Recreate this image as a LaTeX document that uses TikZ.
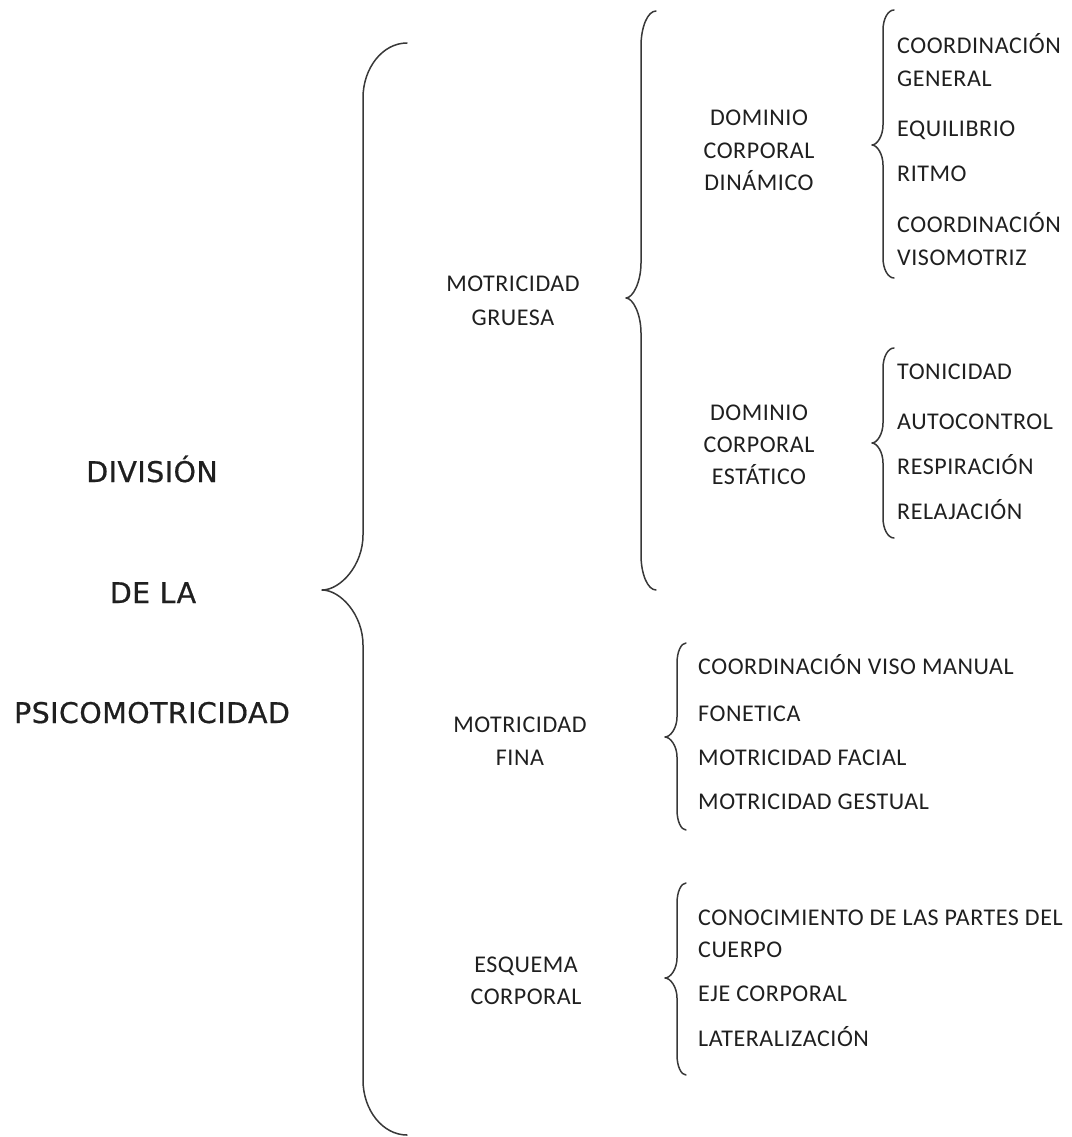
\documentclass[tikz,border=0pt]{standalone}
\usepackage{fontspec}
\setmainfont{Carlito}[LetterSpace=2.3]
\newfontfamily\titlefont{DejaVu Sans}[FakeBold=0.6,LetterSpace=1.5]
\begin{document}
\begin{tikzpicture}[x=1pt,y=-1pt,
  bracestyle/.style={draw=black!78,line width=1.5pt,line join=round,line cap=round},
  title/.style={font=\titlefont\fontsize{28.5}{34}\selectfont,text=black!88,inner sep=0pt,anchor=base},
  label/.style={font=\fontsize{24}{33}\selectfont,text=black!88,inner sep=0pt,anchor=base},
  item/.style={font=\fontsize{24}{33}\selectfont,text=black!88,inner sep=0pt,anchor=base west}]
\useasboundingbox (0,0) rectangle (1071,1137);
\newcommand\mybrace[7]{%
 \draw[bracestyle] (#1,#4) .. controls ({#2+0.45*(#1-#2)},#4) and (#2,{#4+0.45*#7}) .. (#2,{#4+#7})
   -- (#2,{#5-#7}) .. controls (#2,{#5-0.45*#7}) and ({#3+0.45*(#2-#3)},#5) .. (#3,#5)
   .. controls ({#3+0.45*(#2-#3)},#5) and (#2,{#5+0.45*#7}) .. (#2,{#5+#7})
   -- (#2,{#6-#7}) .. controls (#2,{#6-0.45*#7}) and ({#2+0.45*(#1-#2)},#6) .. (#1,#6);}
% title
\node[title] (t1) at (152,482) {DIVISIÓN};
\node[title] (t2) at (153,603) {DE LA};
\node[title] (t3) at (152,723) {PSICOMOTRICIDAD};
% main brace
\mybrace{407}{363}{322}{43}{590}{1135}{55}
% level 1
\node[label] (g1) at (513,291) {MOTRICIDAD};
\node[label] (g2) at (513,325) {GRUESA};
\node[label] (f1) at (520,732) {MOTRICIDAD};
\node[label] (f2) at (520,765) {FINA};
\node[label] (e1) at (526,972) {ESQUEMA};
\node[label] (e2) at (526,1004) {CORPORAL};
% brace gruesa
\mybrace{656}{641}{626}{11}{298}{590}{35}
% level 2
\node[label] (d1) at (759,125) {DOMINIO};
\node[label] (d2) at (759,158) {CORPORAL};
\node[label] (d3) at (759,190) {DINÁMICO};
\node[label] (s1) at (759,420) {DOMINIO};
\node[label] (s2) at (759,452) {CORPORAL};
\node[label] (s3) at (759,484) {ESTÁTICO};
% brace dinamico
\mybrace{894}{883}{872}{10}{145}{278}{20}
\node[item] (a1) at (897,54) {COORDINACIÓN};
\node[item] (a2) at (897,87) {GENERAL};
\node[item] (a3) at (897,136) {EQUILIBRIO};
\node[item] (a4) at (897,181) {RITMO};
\node[item] (a5) at (897,232) {COORDINACIÓN};
\node[item] (a6) at (897,265) {VISOMOTRIZ};
% brace estatico
\mybrace{894}{883}{872}{348}{443}{538}{20}
\node[item] (b1) at (897,379) {TONICIDAD};
\node[item] (b2) at (897,429) {AUTOCONTROL};
\node[item] (b3) at (897,474) {RESPIRACIÓN};
\node[item] (b4) at (897,519) {RELAJACIÓN};
% brace fina
\mybrace{686}{677}{665}{643}{737}{830}{20}
\node[item] (c1) at (698,674) {COORDINACIÓN VISO MANUAL};
\node[item] (c2) at (698,721) {FONETICA};
\node[item] (c3) at (698,765) {MOTRICIDAD FACIAL};
\node[item] (c4) at (698,809) {MOTRICIDAD GESTUAL};
% brace esquema
\mybrace{686}{677}{665}{883}{978}{1075}{20}
\node[item] (h1) at (698,925) {CONOCIMIENTO DE LAS PARTES DEL};
\node[item] (h2) at (698,957) {CUERPO};
\node[item] (h3) at (698,1001) {EJE CORPORAL};
\node[item] (h4) at (698,1046) {LATERALIZACIÓN};
\end{tikzpicture}
\end{document}
